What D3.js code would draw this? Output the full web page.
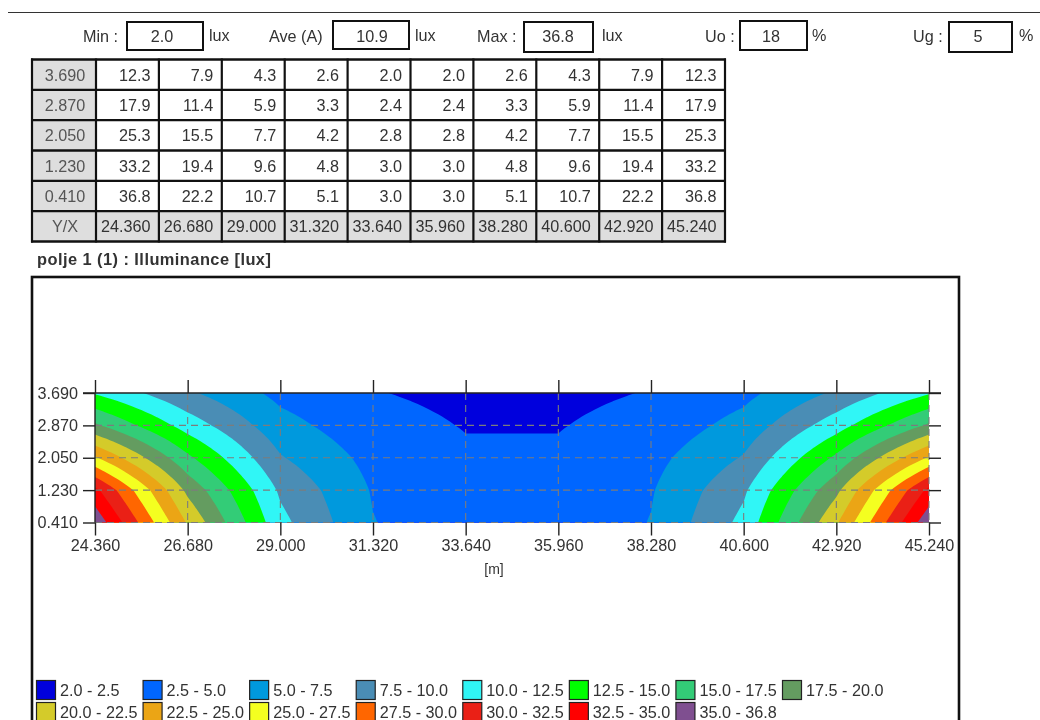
<!DOCTYPE html>
<html><head><meta charset="utf-8">
<script src="https://cdn.jsdelivr.net/npm/d3@7/dist/d3.min.js"></script>
<style>
html,body{margin:0;padding:0;background:#fff;overflow:hidden}
svg{display:block;filter:blur(0.45px)}
text{font-family:"Liberation Sans",Arial,sans-serif;fill:#333;font-size:16.2px}
</style></head><body>
<svg id="c" width="1040" height="720"></svg>
<script>
const xCoords=[24.36,26.68,29.0,31.32,33.64,35.96,38.28,40.6,42.92,45.24];
const yCoords=[3.69,2.87,2.05,1.23,0.41];
const row369=[12.3,7.9,4.3,2.6,2.0,2.0,2.6,4.3,7.9,12.3];
const row287=[17.9,11.4,5.9,3.3,2.4,2.4,3.3,5.9,11.4,17.9];
const row205=[25.3,15.5,7.7,4.2,2.8,2.8,4.2,7.7,15.5,25.3];
const row123=[33.2,19.4,9.6,4.8,3.0,3.0,4.8,9.6,19.4,33.2];
const row041=[36.8,22.2,10.7,5.1,3.0,3.0,5.1,10.7,22.2,36.8];
const rows=[row369,row287,row205,row123,row041];
const bandLabels=["2.0 - 2.5","2.5 - 5.0","5.0 - 7.5","7.5 - 10.0","10.0 - 12.5","12.5 - 15.0","15.0 - 17.5","17.5 - 20.0","20.0 - 22.5","22.5 - 25.0","25.0 - 27.5","27.5 - 30.0","30.0 - 32.5","32.5 - 35.0","35.0 - 36.8"];
const thresholds=[2,2.5,5,7.5,10,12.5,15,17.5,20,22.5,25,27.5,30,32.5,35];
const bandColors=["#0000dd","#0066ff","#0099dd","#4a8db5","#30f6f6","#00ff00","#33cc77","#649c60","#d4cb2a","#eba515","#f4ff20","#ff6600","#ea2016","#ff0000","#7f4f90"];
const stats=[
 {label:"Min :",lx:83,value:"2.0",box:[127,22,76,28],vx:162,unit:"lux",ux:209},
 {label:"Ave (A)",lx:269,value:"10.9",box:[333,21,76,28],vx:372,unit:"lux",ux:415},
 {label:"Max :",lx:477,value:"36.8",box:[524,22,69,30],vx:558,unit:"lux",ux:602},
 {label:"Uo :",lx:705,value:"18",box:[740,21,67,29],vx:771,unit:"%",ux:812},
 {label:"Ug :",lx:913,value:"5",box:[949,22,63,30],vx:978,unit:"%",ux:1019}];

const svg=d3.select("#c");
const dark="#111";
svg.append("line").attr("x1",8).attr("x2",1040).attr("y1",12.5).attr("y2",12.5).attr("stroke","#333").attr("stroke-width",1.2);
const sg=svg.selectAll("g.s").data(stats).join("g");
sg.append("rect").attr("x",d=>d.box[0]).attr("y",d=>d.box[1]).attr("width",d=>d.box[2]).attr("height",d=>d.box[3]).attr("fill","#fff").attr("stroke",dark).attr("stroke-width",2);
sg.append("text").attr("x",d=>d.lx).attr("y",41.5).text(d=>d.label);
sg.append("text").attr("x",d=>d.vx).attr("y",42).attr("text-anchor","middle").text(d=>d.value);
sg.append("text").attr("x",d=>d.ux).attr("y",41).text(d=>d.unit);

const colEdge=d3.scaleLinear().domain([0,10]).range([96,725]);
const rowEdge=d3.scaleLinear().domain([0,6]).range([59.5,241.5]);
const t=svg.append("g");
const tl=32;
for(let r=0;r<6;r++){
  const isHead=r===5;
  t.append("rect").attr("x",tl).attr("y",rowEdge(r)).attr("width",colEdge(0)-tl).attr("height",rowEdge(r+1)-rowEdge(r)).attr("fill","#dedede");
  t.append("text").attr("x",(tl+colEdge(0))/2+1).attr("y",(rowEdge(r)+rowEdge(r+1))/2+6).attr("text-anchor","middle").style("fill","#555")
    .text(isHead?"Y/X":d3.format(".3f")(yCoords[r]));
  for(let c=0;c<10;c++){
    t.append("rect").attr("x",colEdge(c)).attr("y",rowEdge(r)).attr("width",colEdge(c+1)-colEdge(c)).attr("height",rowEdge(r+1)-rowEdge(r)).attr("fill",isHead?"#dedede":"#fff");
    t.append("text").attr("x",colEdge(c+1)-8.5).attr("y",(rowEdge(r)+rowEdge(r+1))/2+6).attr("text-anchor","end")
      .text(isHead?d3.format(".3f")(xCoords[c]):d3.format(".1f")(rows[r][c]));
  }
}
d3.range(0,7).forEach(r=>t.append("line").attr("x1",tl-1).attr("x2",726).attr("y1",rowEdge(r)).attr("y2",rowEdge(r)).attr("stroke",dark).attr("stroke-width",2.4));
[tl].concat(d3.range(0,11).map(colEdge)).forEach(x=>t.append("line").attr("x1",x).attr("x2",x).attr("y1",58.5).attr("y2",242.5).attr("stroke",dark).attr("stroke-width",2.2));

svg.append("text").attr("x",37).attr("y",265).attr("font-weight","bold").style("font-size","16.4px").style("letter-spacing","0.45px").text("polje 1 (1) : Illuminance [lux]");
svg.append("rect").attr("x",32).attr("y",277).attr("width",927).attr("height",470).attr("fill","#fff").attr("stroke",dark).attr("stroke-width",2.6);

const x=d3.scaleLinear().domain([24.36,45.24]).range([95,929]);
const y=d3.scaleLinear().domain([0.41,3.69]).range([522.5,393]);
const k=12, nx=(xCoords.length-1)*k+1, ny=(yCoords.length-1)*k+1;
// the table traced on a finer raster, for the contour tracer only
const raster=new Float64Array(nx*ny);
for(let j=0;j<ny;j++)for(let i=0;i<nx;i++){
  const c=Math.min(Math.floor(i/k),xCoords.length-2), r=Math.min(Math.floor(j/k),yCoords.length-2);
  const u=i/k-c, v=j/k-r;
  raster[j*nx+i]=(1-v)*((1-u)*rows[r][c]+u*rows[r][c+1])+v*((1-u)*rows[r+1][c]+u*rows[r+1][c+1]);
}
const contours=d3.contours().size([nx,ny]).smooth(true).thresholds(thresholds)(raster);
const cellX=d3.scaleLinear().domain([0.5,nx-0.5]).range([x.domain()[0],x.domain()[1]]);
const cellY=d3.scaleLinear().domain([0.5,ny-0.5]).range([yCoords[0],yCoords[yCoords.length-1]]);
const proj=d3.geoTransform({point(px,py){this.stream.point(x(cellX(px)),y(cellY(py)));}});
const path=d3.geoPath(proj);
svg.append("clipPath").attr("id","pc").append("rect").attr("x",x.range()[0]).attr("y",y.range()[1]).attr("width",x.range()[1]-x.range()[0]).attr("height",y.range()[0]-y.range()[1]);
const fillG=svg.append("g").attr("clip-path","url(#pc)");
fillG.append("rect").attr("x",95).attr("y",393).attr("width",834).attr("height",130).attr("fill",bandColors[0]);
fillG.selectAll("path").data(contours).join("path").attr("d",path).attr("fill",(d,i)=>bandColors[i]);

const grid=svg.append("g").attr("stroke","#7c7c7c").attr("stroke-width",1.1).attr("stroke-dasharray","7 5");
grid.selectAll("line.v").data(xCoords.slice(1)).join("line").attr("class","v").attr("x1",x).attr("x2",x).attr("y1",393).attr("y2",522.5);
grid.selectAll("line.h").data(yCoords.slice(1)).join("line").attr("class","h").attr("x1",95).attr("x2",929).attr("y1",y).attr("y2",y);

const styleAxis=g=>{g.select(".domain").remove();g.selectAll("line").attr("stroke","#222").attr("stroke-width",1.4);g.selectAll("text").style("fill","#333").style("font-size","16.2px").style("font-family",'"Liberation Sans",Arial,sans-serif');};
const f3=d3.format(".3f");
svg.append("g").attr("transform",`translate(0,${y.range()[0]})`).call(d3.axisBottom(x).tickValues(xCoords).tickFormat(f3).tickSize(13).tickPadding(4)).call(styleAxis);
svg.append("g").attr("transform",`translate(0,${y.range()[1]})`).call(d3.axisTop(x).tickValues(xCoords).tickFormat("").tickSize(13)).call(styleAxis);
svg.append("g").attr("transform","translate(95,0)").call(d3.axisLeft(y).tickValues(yCoords).tickFormat(f3).tickSize(12).tickPadding(5)).call(styleAxis);
svg.append("g").attr("transform","translate(929,0)").call(d3.axisRight(y).tickValues(yCoords).tickFormat("").tickSize(12)).call(styleAxis);
svg.append("line").attr("x1",95).attr("x2",95).attr("y1",393).attr("y2",522.5).attr("stroke","#222").attr("stroke-width",1.4);
svg.append("line").attr("x1",83).attr("x2",941).attr("y1",393).attr("y2",393).attr("stroke","#222").attr("stroke-width",1.4);
svg.append("text").attr("x",494).attr("y",574).attr("text-anchor","middle").style("font-size","14px").text("[m]");

const lx=d3.scalePoint().domain(d3.range(8)).range([36,782]);
const lg=svg.selectAll("g.l").data(bandLabels).join("g").attr("transform",(d,i)=>`translate(${lx(i%8)},${i<8?680:702})`);
lg.append("rect").attr("x",.5).attr("y",.5).attr("width",19).attr("height",19).attr("fill",(d,i)=>bandColors[i]).attr("stroke","#222").attr("stroke-width",1.2);
lg.append("text").attr("x",24).attr("y",15.5).text(d=>d);
</script></body></html>
